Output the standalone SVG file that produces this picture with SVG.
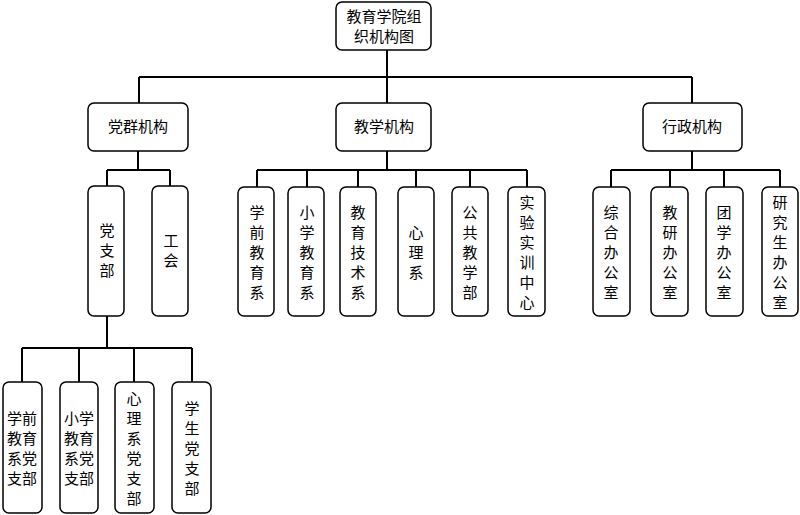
<svg xmlns="http://www.w3.org/2000/svg" width="800" height="515" viewBox="0 0 800 515">
<style>
rect{fill:#fff;stroke:#000;stroke-width:1.5}
text{font-family:"Noto Sans CJK SC",sans-serif;font-size:15px;text-anchor:middle;fill:#000}
#connectors path{fill:none;stroke:#000;stroke-width:2}
</style>
<rect x="0" y="0" width="800" height="515" style="stroke:none"/>
<g id="connectors">
<path d="M387 50V77M139 77H692M139 77V103M387 77V103M692 77V103"/>
<path d="M138 151V170M107 170H170M107 170V186M170 170V186"/>
<path d="M387 151V170M257 170H527M257 170V187M307 170V187M358 170V187M416 170V187M470 170V187M527 170V187"/>
<path d="M692 151V170M611 170H780M611 170V187M670 170V187M724 170V187M780 170V187"/>
<path d="M107 316V348M22 348H192M22 348V382M79 348V382M134 348V382M192 348V382"/>
</g>
<g id="root"><rect x="336" y="2" width="95" height="48" rx="6"/><text x="384" y="22">教育学院组</text><text x="384" y="42">织机构图</text></g>
<g id="dangqun"><rect x="88" y="103" width="100" height="48" rx="6"/><text x="138" y="132">党群机构</text></g>
<g id="jiaoxue"><rect x="336" y="103" width="95" height="48" rx="6"/><text x="384" y="132">教学机构</text></g>
<g id="xingzheng"><rect x="643" y="103" width="99" height="48" rx="6"/><text x="692" y="132">行政机构</text></g>
<g id="dangzhibu"><rect x="88" y="186" width="36" height="130" rx="6"/><text x="107" y="236">党</text><text x="107" y="256">支</text><text x="107" y="276">部</text></g>
<g id="gonghui"><rect x="152" y="186" width="36" height="130" rx="6"/><text x="171" y="246">工</text><text x="171" y="266">会</text></g>
<g id="xq"><rect x="238" y="187" width="36" height="129" rx="6"/><text x="257" y="218">学</text><text x="257" y="238">前</text><text x="257" y="258">教</text><text x="257" y="278">育</text><text x="257" y="298">系</text></g>
<g id="xx"><rect x="288" y="187" width="36" height="129" rx="6"/><text x="307" y="218">小</text><text x="307" y="238">学</text><text x="307" y="258">教</text><text x="307" y="278">育</text><text x="307" y="298">系</text></g>
<g id="js"><rect x="340" y="187" width="36" height="129" rx="6"/><text x="358" y="218">教</text><text x="358" y="238">育</text><text x="358" y="258">技</text><text x="358" y="278">术</text><text x="358" y="298">系</text></g>
<g id="xl"><rect x="398" y="187" width="36" height="129" rx="6"/><text x="416" y="238">心</text><text x="416" y="258">理</text><text x="416" y="278">系</text></g>
<g id="gg"><rect x="452" y="187" width="36" height="129" rx="6"/><text x="470" y="218">公</text><text x="470" y="238">共</text><text x="470" y="258">教</text><text x="470" y="278">学</text><text x="470" y="298">部</text></g>
<g id="sy"><rect x="508" y="187" width="37" height="129" rx="6"/><text x="527" y="208">实</text><text x="527" y="228">验</text><text x="527" y="248">实</text><text x="527" y="268">训</text><text x="527" y="288">中</text><text x="527" y="308">心</text></g>
<g id="zh"><rect x="593" y="187" width="37" height="129" rx="6"/><text x="611" y="218">综</text><text x="611" y="238">合</text><text x="611" y="258">办</text><text x="611" y="278">公</text><text x="611" y="298">室</text></g>
<g id="jy"><rect x="651" y="187" width="37" height="129" rx="6"/><text x="670" y="218">教</text><text x="670" y="238">研</text><text x="670" y="258">办</text><text x="670" y="278">公</text><text x="670" y="298">室</text></g>
<g id="tx"><rect x="706" y="187" width="37" height="129" rx="6"/><text x="724" y="218">团</text><text x="724" y="238">学</text><text x="724" y="258">办</text><text x="724" y="278">公</text><text x="724" y="298">室</text></g>
<g id="yjs"><rect x="762" y="187" width="36" height="129" rx="6"/><text x="780" y="208">研</text><text x="780" y="228">究</text><text x="780" y="248">生</text><text x="780" y="268">办</text><text x="780" y="288">公</text><text x="780" y="308">室</text></g>
<g id="b1"><rect x="3" y="382" width="39" height="131" rx="6"/><text x="22" y="424">学前</text><text x="22" y="444">教育</text><text x="22" y="464">系党</text><text x="22" y="484">支部</text></g>
<g id="b2"><rect x="60" y="382" width="38" height="131" rx="6"/><text x="79" y="424">小学</text><text x="79" y="444">教育</text><text x="79" y="464">系党</text><text x="79" y="484">支部</text></g>
<g id="b3"><rect x="115" y="382" width="39" height="131" rx="6"/><text x="134" y="404">心</text><text x="134" y="424">理</text><text x="134" y="444">系</text><text x="134" y="464">党</text><text x="134" y="484">支</text><text x="134" y="504">部</text></g>
<g id="b4"><rect x="172" y="382" width="39" height="131" rx="6"/><text x="192" y="414">学</text><text x="192" y="434">生</text><text x="192" y="454">党</text><text x="192" y="474">支</text><text x="192" y="494">部</text></g>
</svg>
